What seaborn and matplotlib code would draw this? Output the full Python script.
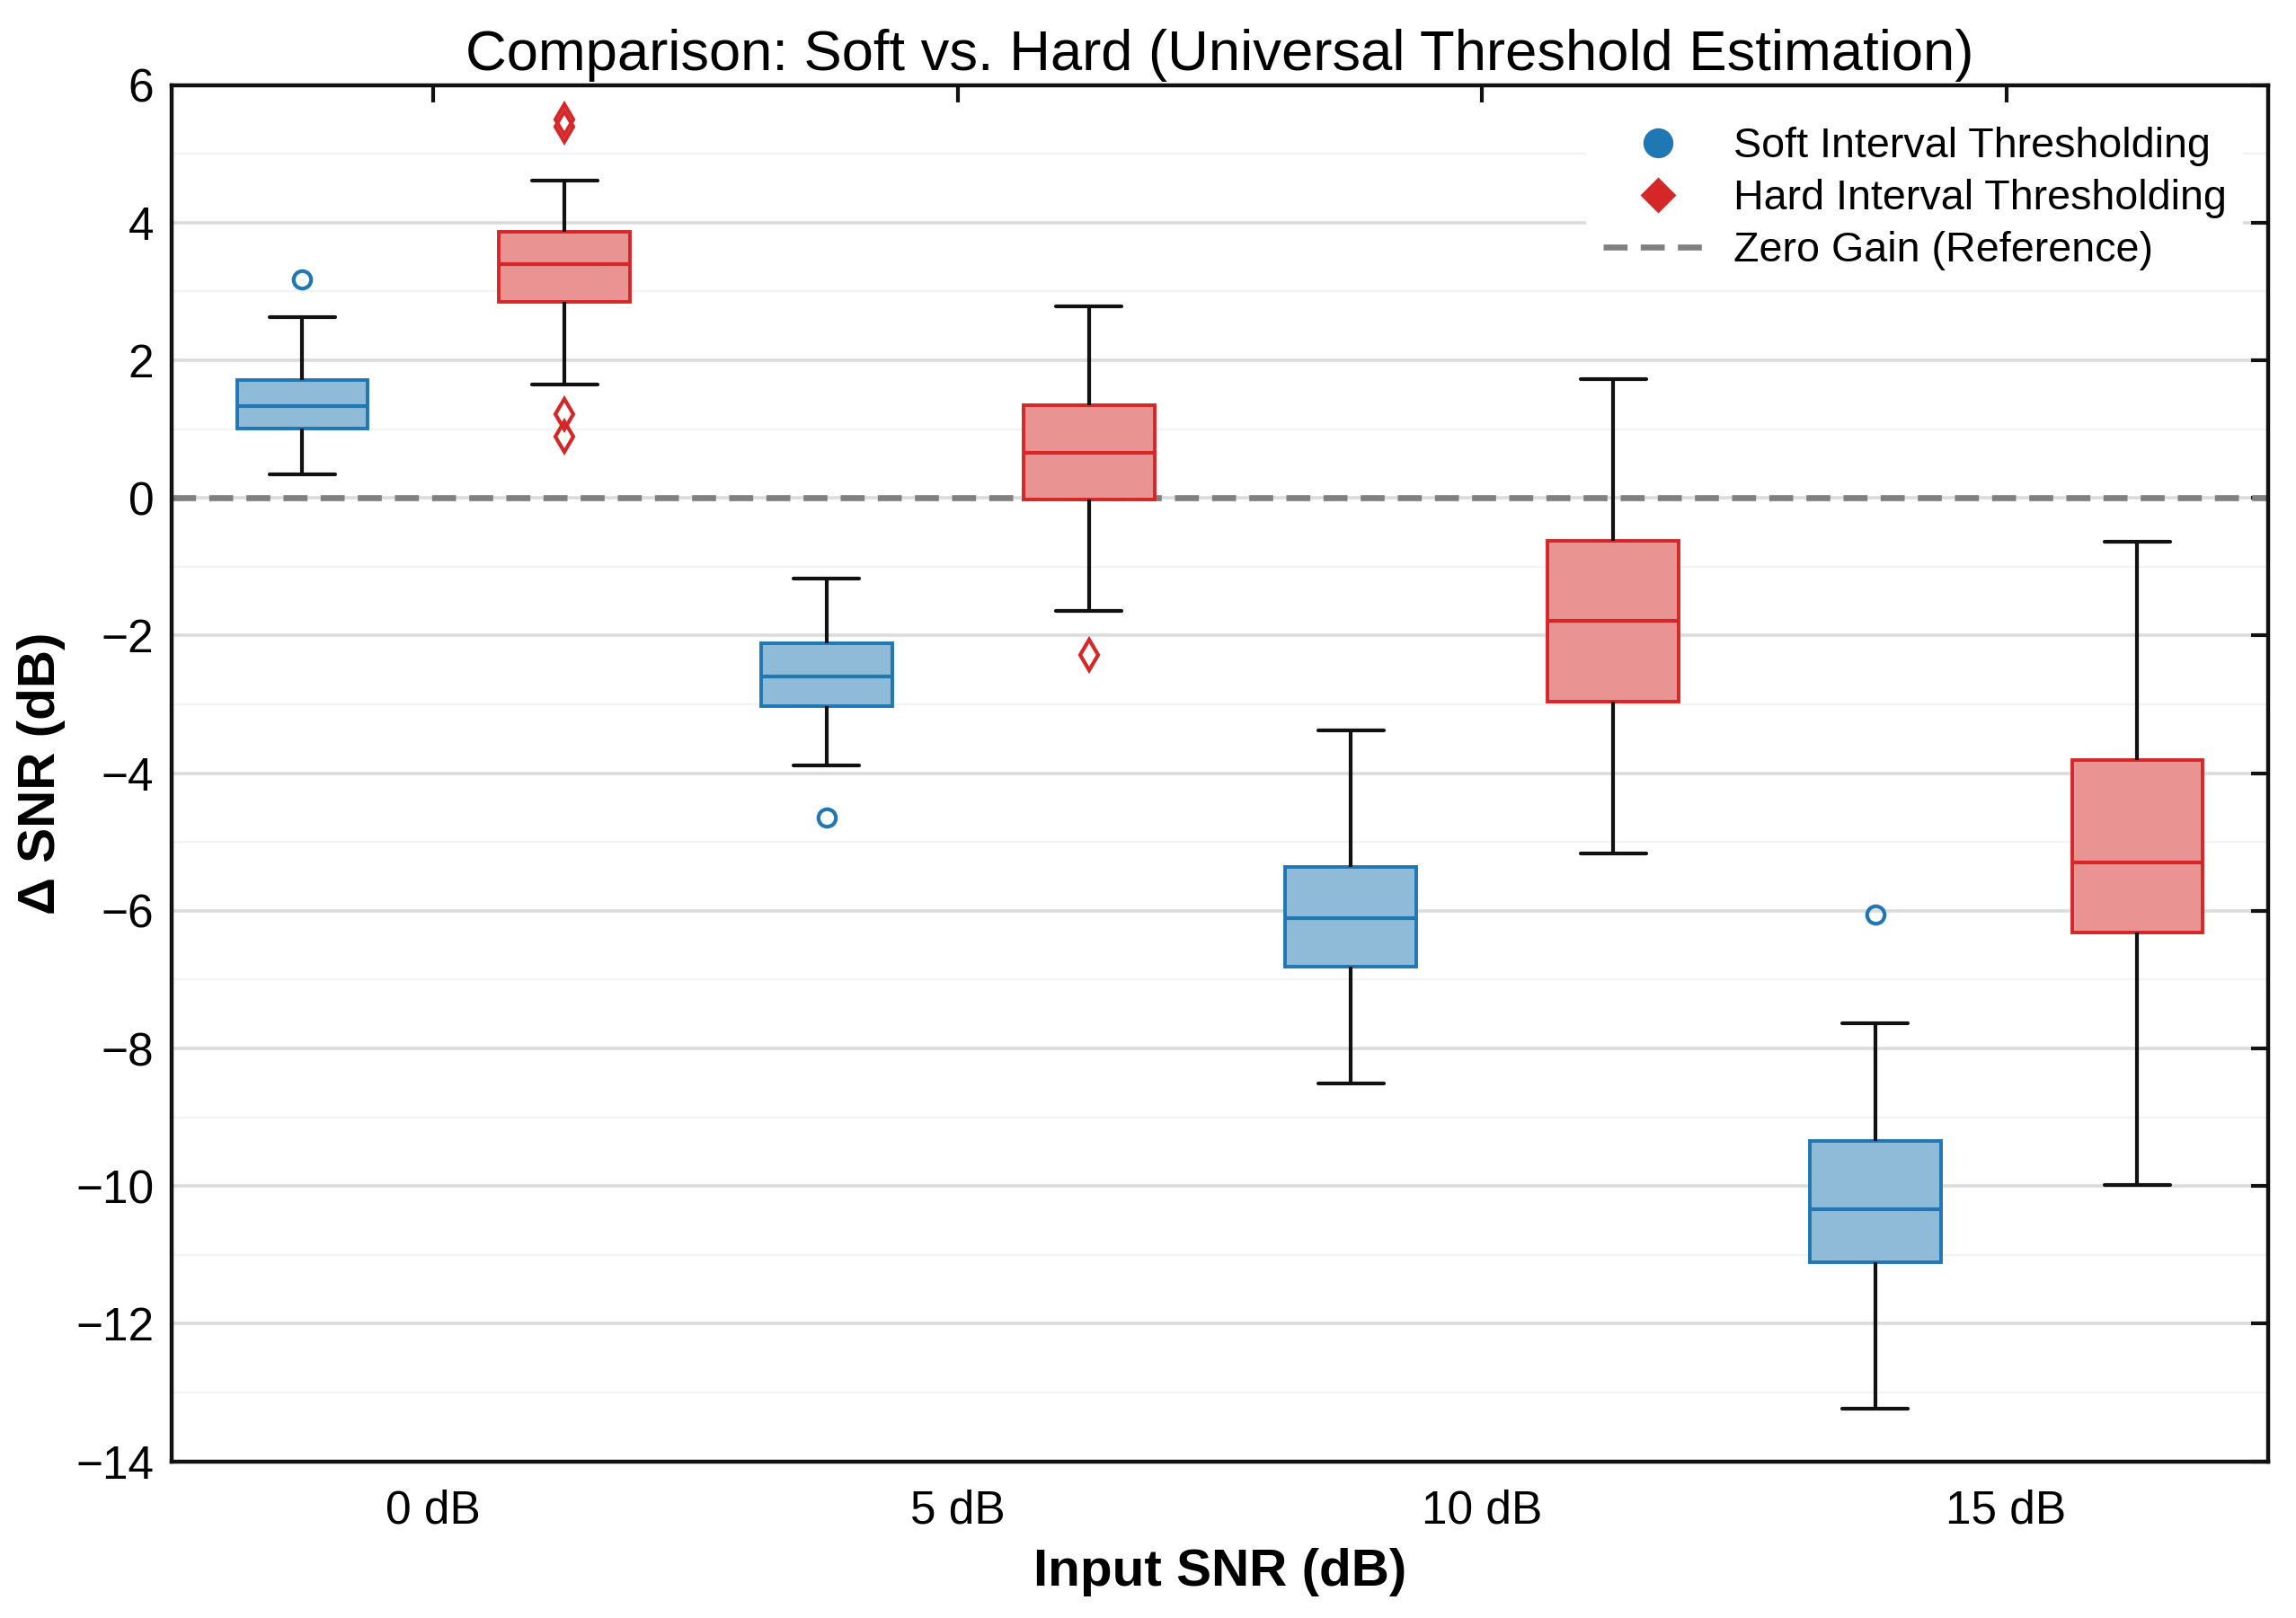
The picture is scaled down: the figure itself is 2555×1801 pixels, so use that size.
import matplotlib
matplotlib.use("Agg")
import matplotlib.pyplot as plt
from matplotlib.lines import Line2D
from matplotlib.ticker import MultipleLocator
import numpy as np
import pandas as pd
import seaborn as sns

# ---- data ----
categories = ["0 dB", "5 dB", "10 dB", "15 dB"]
methods = ["Soft Interval Thresholding", "Hard Interval Thresholding"]

soft_whislo = [0.34, -3.89, -8.51, -13.23]
soft_q1 = [1.01, -3.02, -6.81, -11.11]
soft_med = [1.34, -2.60, -6.11, -10.34]
soft_q3 = [1.71, -2.11, -5.36, -9.35]
soft_whishi = [2.63, -1.17, -3.38, -7.63]
soft_fliers = [[3.18], [-4.64], [], [-6.05]]

hard_whislo = [1.65, -1.64, -5.17, -9.98]
hard_q1 = [2.85, -0.02, -2.96, -6.31]
hard_med = [3.39, 0.65, -1.79, -5.30]
hard_q3 = [3.86, 1.35, -0.62, -3.81]
hard_whishi = [4.61, 2.78, 1.72, -0.64]
hard_fliers = [[5.40, 5.50, 1.22, 0.89], [-2.28], [], []]

yticks = list(range(-14, 7, 2))

soft_color = "#1f77b4"
hard_color = "#d62728"
soft_fill = "#8fbbd9"
hard_fill = "#ea9393"


def sample_from_stats(lo, q1, med, q3, hi, fliers):
    """Observations whose quartiles/whiskers reproduce the read summary."""
    fl = sorted(f for f in fliers if f < q1)
    fh = sorted(f for f in fliers if f > q3)
    L, H = len(fl) + 1, len(fh) + 1
    k = max(L, H)
    vals = fl + [lo] + [q1] * (k - L) + [q1] + [q1] * (k - 1) + [med] \
        + [med] * (k - 1) + [q3] + [q3] * (k - H) + [hi] + fh
    return vals


rows = []
for i, cat in enumerate(categories):
    for v in sample_from_stats(soft_whislo[i], soft_q1[i], soft_med[i], soft_q3[i],
                               soft_whishi[i], soft_fliers[i]):
        rows.append((cat, methods[0], v))
    for v in sample_from_stats(hard_whislo[i], hard_q1[i], hard_med[i], hard_q3[i],
                               hard_whishi[i], hard_fliers[i]):
        rows.append((cat, methods[1], v))
df = pd.DataFrame(rows, columns=["snr", "method", "gain"])

# ---- style ----
sns.set_theme(style="white")
plt.rcParams["font.family"] = ["Liberation Sans", "DejaVu Sans"]
plt.rcParams["text.color"] = "black"
plt.rcParams["axes.labelcolor"] = "black"
plt.rcParams["xtick.color"] = "black"
plt.rcParams["ytick.color"] = "black"

fig = plt.figure(figsize=(12.775, 9.005), dpi=200)
ax = fig.add_axes([0.0746, 0.0968, 0.988 - 0.0746, 0.9475 - 0.0968])

palette = {methods[0]: soft_color, methods[1]: hard_color}
specs = [
    (methods[0], soft_color, soft_fill, "o", 7),
    (methods[1], hard_color, hard_fill, "d", 8.5),
]
for m, col, fill, mk, ms in specs:
    sns.boxplot(
        data=df[df["method"] == m], x="snr", y="gain", hue="method",
        order=categories, hue_order=methods, palette=palette,
        dodge=True, width=1.0, gap=0.5, whis=1.5, legend=False, ax=ax,
        linewidth=1.4,
        boxprops=dict(facecolor=fill, edgecolor=col, linewidth=1.4),
        medianprops=dict(color=col, linewidth=1.5),
        whiskerprops=dict(color="#111111", linewidth=1.5),
        capprops=dict(color="#111111", linewidth=1.5),
        flierprops=dict(marker=mk, markerfacecolor="none", markeredgecolor=col,
                        markersize=ms, markeredgewidth=1.5),
    )

ax.axhline(0, color="#808080", lw=2.4, ls=(0, (4, 2.2)), zorder=1.5)

ax.set_xlim(-0.5, 3.5)
ax.set_ylim(-14, 6)
ax.set_yticks(yticks)
ax.yaxis.set_minor_locator(MultipleLocator(1))
ax.set_axisbelow(True)
ax.yaxis.grid(True, which="major", color="#dcdcdc", lw=1.3)
ax.yaxis.grid(True, which="minor", color="#f3f3f3", lw=0.8)
ax.xaxis.grid(False)

for s in ax.spines.values():
    s.set_visible(True)
    s.set_color("#111111")
    s.set_linewidth(1.6)

ax.tick_params(axis="both", which="major", direction="in", top=True, right=True,
               length=7, width=1.5, color="#111111", labelsize=18.5)
ax.tick_params(axis="x", which="major", pad=11)
ax.tick_params(axis="y", which="major", pad=7)
ax.tick_params(axis="y", which="minor", length=0)

ax.set_title("Comparison: Soft vs. Hard (Universal Threshold Estimation)",
             fontsize=22.8, pad=6)
ax.set_xlabel("Input SNR (dB)", fontsize=21, fontweight="bold", labelpad=6)
ax.set_ylabel("Δ SNR (dB)", fontsize=21, fontweight="bold", labelpad=4)

handles = [
    Line2D([], [], marker="o", ls="none", markerfacecolor=soft_color,
           markeredgecolor=soft_color, markersize=11),
    Line2D([], [], marker="D", ls="none", markerfacecolor=hard_color,
           markeredgecolor=hard_color, markersize=9),
    Line2D([], [], color="#808080", lw=2.4, ls=(0, (4, 2.2))),
]
labels = methods + ["Zero Gain (Reference)"]
leg = ax.legend(handles, labels, loc="upper right", fontsize=16.8,
                frameon=True, facecolor="white", edgecolor="none", framealpha=1,
                handlelength=2.6, handletextpad=0.5, borderaxespad=0.6,
                labelspacing=0.3)

fig.savefig("out.png", dpi=200)
